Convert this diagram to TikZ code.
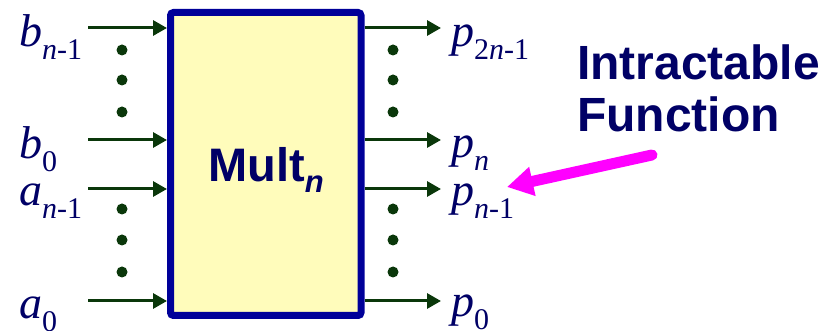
\documentclass[tikz,border=0pt]{standalone}
\usepackage{fontspec}
\setmainfont{Liberation Serif}
\newfontfamily\arialfont{Liberation Sans}
\usetikzlibrary{arrows.meta}
\definecolor{navy}{RGB}{0,0,102}
\definecolor{boxblue}{RGB}{0,0,153}
\definecolor{boxfill}{RGB}{255,252,187}
\definecolor{wire}{RGB}{10,55,10}
\definecolor{hotpink}{RGB}{255,0,255}
\newcommand{\siglbl}[2]{{\fontsize{46}{50}\selectfont\itshape #1}\raisebox{-13pt}{\fontsize{30}{32}\selectfont #2}}
\begin{document}
\begin{tikzpicture}[x=1pt,y=-1pt,
  wirearrow/.style={draw=wire, line width=3pt, -{Triangle[length=14pt,width=15pt]}},
  dotmark/.style={fill=wire},
  lbl/.style={text=navy, inner sep=0pt, anchor=base west},
  bigtext/.style={text=navy, inner sep=0pt, anchor=base west, font=\arialfont\bfseries\fontsize{48}{52}\selectfont},
  multbox/.style={draw=boxblue, fill=boxfill, line width=7pt, rounded corners=3pt, minimum width=190.5pt, minimum height=303pt, inner sep=0pt, outer sep=3.5pt}]
\useasboundingbox (0,0) rectangle (839,331);

% box
\node[multbox] (mult) at (265.75,164) {};
\node[text=navy, inner sep=0pt, anchor=base] (multlbl) at (266,182) {\arialfont\bfseries\fontsize{47}{50}\selectfont Mult\raisebox{-11pt}{\fontsize{31}{32}\selectfont\itshape n}};

% input wire start points
\coordinate (ib1) at (88,28);
\coordinate (ib0) at (88,140);
\coordinate (ia1) at (88,189);
\coordinate (ia0) at (88,301);
% output wire end points
\coordinate (op2) at (441,28);
\coordinate (opn) at (441,140);
\coordinate (op1) at (441,189);
\coordinate (op0) at (441,301);

\foreach \c in {ib1,ib0,ia1,ia0} \draw[wirearrow] (\c) -- (\c -| mult.west);
\foreach \c in {op2,opn,op1,op0} \draw[wirearrow] (\c -| mult.east) -- (\c);

% dots
\foreach \y in {50,80,112,209,240,272} {
  \fill[dotmark] (122,\y) circle (5.5pt);
  \fill[dotmark] (393,\y) circle (5.5pt);
}

% input labels
\node[lbl] (lb1) at (19,47) {\siglbl{b}{\itshape n\upshape -1}};
\node[lbl] (lb0) at (19,159) {\siglbl{b}{0}};
\node[lbl] (la1) at (19,206) {\siglbl{a}{\itshape n\upshape -1}};
\node[lbl] (la0) at (19,319) {\siglbl{a}{0}};

% output labels
\node[lbl] (lp2) at (451,47) {\siglbl{p}{2\itshape n\upshape -1}};
\node[lbl] (lpn) at (451,158) {\siglbl{p}{\itshape n}};
\node[lbl] (lp1) at (451,206) {\siglbl{p}{\itshape n\upshape -1}};
\node[lbl] (lp0) at (451,317) {\siglbl{p}{0}};

% annotation
\node[bigtext] (intr) at (577,80) {Intractable};
\node[bigtext] (func) at (577,132) {Function};
\coordinate (ptail) at (652,155);
\coordinate (ptip) at (507,187);
\draw[hotpink, line width=11pt, line cap=round, -{Triangle[length=26pt,width=28pt]}] (ptail) -- (ptip);
\end{tikzpicture}
\end{document}
